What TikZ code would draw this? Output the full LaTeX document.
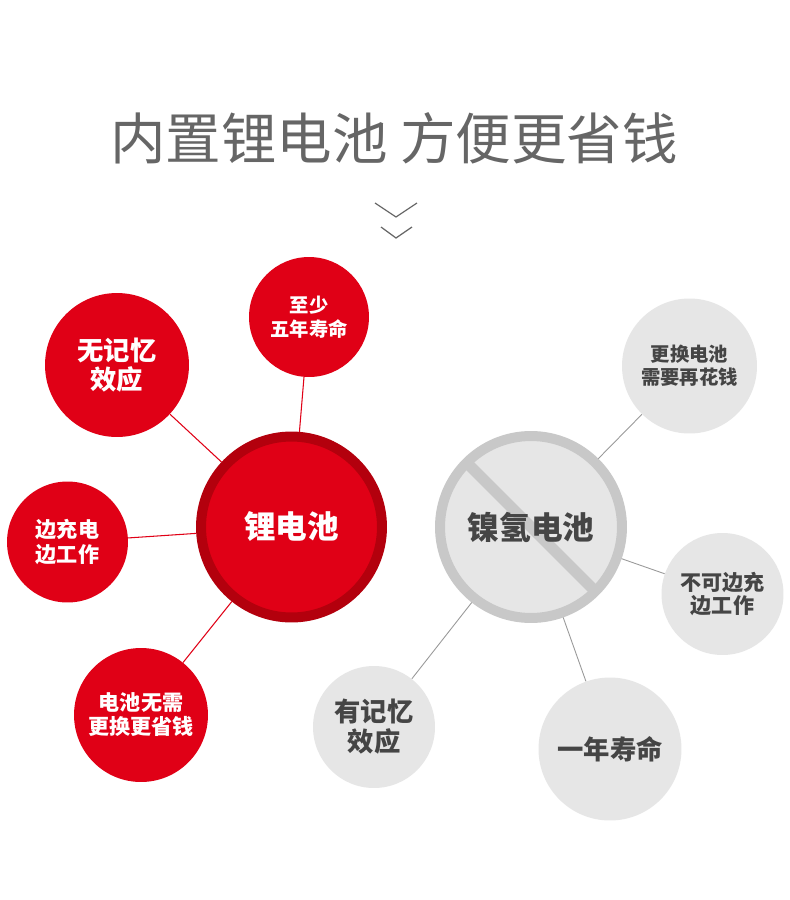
\documentclass[tikz,border=0pt]{standalone}
\usepackage{fontspec}
\setmainfont{Noto Sans CJK SC}
\definecolor{lired}{HTML}{E00016}
\definecolor{lidark}{HTML}{B3000D}
\definecolor{nifill}{HTML}{E6E6E6}
\definecolor{niring}{HTML}{C8C8C8}
\definecolor{nitext}{HTML}{454545}
\definecolor{titlegray}{HTML}{666666}
\begin{document}
\begin{tikzpicture}[x=0.02cm,y=-0.02cm,
  redball/.style={circle,fill=lired,text=white,inner sep=0pt,align=center,minimum size=#1},
  grayball/.style={circle,fill=nifill,text=nitext,inner sep=0pt,align=center,minimum size=#1},
  redlink/.style={lired,line width=0.6pt},
  graylink/.style={gray!80,line width=0.5pt}]
\fill[white] (0,0) rectangle (790,900);
% 标题
\node[text=titlegray,font=\fontsize{31.6}{36}\selectfont] (title) at (394,138) {内置锂电池 方便更省钱};
\draw[titlegray,line width=0.7pt] (375,203) -- (396,217) -- (417,203);
\draw[titlegray,line width=0.7pt] (381,227) -- (396,238) -- (412,227);
% 锂电池
\node[redball=3.62cm,draw=lidark,line width=0.2cm,font=\bfseries\fontsize{18}{20}\selectfont] (li) at (291.5,527) {锂电池};
\node[redball=2.4cm,font=\bfseries\fontsize{11}{13.6}\selectfont] (life5) at (309,317) {至少\\五年寿命};
\node[redball=2.88cm,font=\bfseries\fontsize{15}{16.5}\selectfont] (nomem) at (117,365) {无记忆\\效应};
\node[redball=2.42cm,font=\bfseries\fontsize{12}{13.8}\selectfont] (charge) at (67.5,542) {边充电\\边工作};
\node[redball=2.68cm,font=\bfseries\fontsize{12}{13.6}\selectfont] (save) at (141,715) {电池无需\\更换更省钱};
\foreach \n in {life5,nomem,charge,save}
  \draw[redlink] (li) -- (\n);
% 镍氢电池
\node[grayball=3.64cm,draw=niring,line width=0.2cm] (ni) at (531,527) {};
\draw[niring,line width=0.22cm] (ni.center) ++(135:1.76cm) -- ++(-45:3.52cm);
\node[text=nitext,font=\bfseries\fontsize{18}{20}\selectfont] (nilabel) at (ni.center) {镍氢电池};
\node[grayball=2.7cm,font=\bfseries\fontsize{11}{13}\selectfont] (cost) at (689.5,366) {更换电池\\需要再花钱};
\node[grayball=2.44cm,font=\bfseries\fontsize{12}{13}\selectfont] (nocharge) at (722.5,594) {不可边充\\边工作};
\node[grayball=2.44cm,font=\bfseries\fontsize{15}{17}\selectfont] (mem) at (374,727) {有记忆\\效应};
\node[grayball=2.86cm,font=\bfseries\fontsize{15}{17}\selectfont] (life1) at (610,749) {一年寿命};
\foreach \n in {cost,nocharge,mem,life1}
  \draw[graylink] (ni) -- (\n);
\end{tikzpicture}
\end{document}
